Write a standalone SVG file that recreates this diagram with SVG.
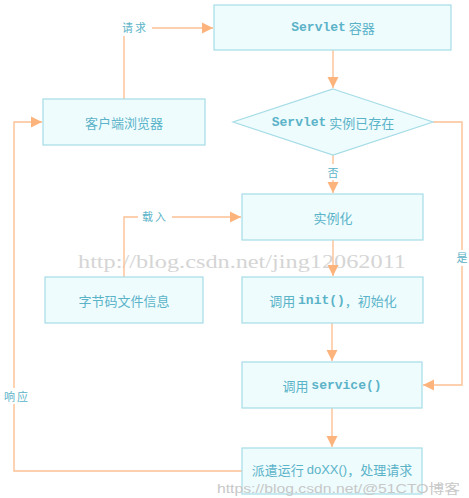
<svg xmlns="http://www.w3.org/2000/svg" width="469" height="498" viewBox="0 0 469 498">
<defs>
<style>
.box{fill:#EEFCFE;stroke:#A6DCE6;stroke-width:1.2}
.t{font-family:"Noto Sans CJK SC","Noto Sans",sans-serif;font-size:13px;fill:#5BB3C8;text-anchor:middle;dominant-baseline:central}
.m{font-family:"Liberation Mono","DejaVu Sans Mono",monospace;font-weight:bold}
.c{fill:none;stroke:#FCC195;stroke-width:1.4}
.lbl{font-family:"Noto Sans CJK SC",sans-serif;font-size:11px;fill:#5BB3C8;text-anchor:middle;dominant-baseline:central}
.wm{font-family:"Liberation Serif",serif;font-size:19px;fill:#D5D5D5}
.wm2{font-family:"Liberation Sans","Noto Sans CJK SC",sans-serif;font-size:13px;fill:#C8C8C8}
</style>
<marker id="ah" markerWidth="12" markerHeight="12" refX="11" refY="6" orient="auto" markerUnits="userSpaceOnUse">
<path d="M0,0.5 L11,6 L0,11.5 Z" fill="#FDB47C"/>
</marker>
</defs>
<rect width="469" height="498" fill="#FFFFFF"/>
<text class="wm" x="78" y="268" textLength="328" lengthAdjust="spacingAndGlyphs">http://blog.csdn.net/jing12062011</text>
<g id="connectors">
<path class="c" d="M124,99 V28 H213" marker-end="url(#ah)"/>
<path class="c" d="M333,50 V88" marker-end="url(#ah)"/>
<path class="c" d="M333,155 V193" marker-end="url(#ah)"/>
<path class="c" d="M124,277 V217 H241" marker-end="url(#ah)"/>
<path class="c" d="M333,240 V276" marker-end="url(#ah)"/>
<path class="c" d="M332,323 V361" marker-end="url(#ah)"/>
<path class="c" d="M433,122 H462 V385 H423" marker-end="url(#ah)"/>
<path class="c" d="M332,408 V447" marker-end="url(#ah)"/>
<path class="c" d="M242,471 H14 V122 H42" marker-end="url(#ah)"/>
<rect x="118" y="20" width="34" height="16" fill="#FFFFFF"/>
<text class="lbl" x="135" y="27" letter-spacing="2">请求</text>
<rect x="326" y="164" width="14" height="16" fill="#FFFFFF"/>
<text class="lbl" x="333" y="172">否</text>
<rect x="138" y="209" width="34" height="16" fill="#FFFFFF"/>
<text class="lbl" x="155" y="216" letter-spacing="2">载入</text>
<rect x="455" y="250" width="14" height="16" fill="#FFFFFF"/>
<text class="lbl" x="462" y="257">是</text>
<rect x="2" y="388" width="28" height="16" fill="#FFFFFF"/>
<text class="lbl" x="17" y="396" letter-spacing="2">响应</text>
</g>
<g id="servlet-container">
<rect class="box" x="214" y="5" width="237" height="45"/>
<text class="t" x="333" y="27"><tspan class="m">Servlet</tspan> 容器</text>
</g>
<g id="browser">
<rect class="box" x="43" y="99" width="162" height="46"/>
<text class="t" x="124" y="122">客户端浏览器</text>
</g>
<g id="exists">
<polygon class="box" points="333,89 433,122 333,155 233,122"/>
<text class="t" x="333" y="122"><tspan class="m">Servlet</tspan> 实例已存在</text>
</g>
<g id="instantiate">
<rect class="box" x="242" y="194" width="181" height="46"/>
<text class="t" x="333" y="217">实例化</text>
</g>
<g id="bytecode">
<rect class="box" x="45" y="277" width="158" height="46"/>
<text class="t" x="124" y="300">字节码文件信息</text>
</g>
<g id="init">
<rect class="box" x="242" y="277" width="181" height="46"/>
<text class="t" x="333" y="300">调用 <tspan class="m">init()</tspan>，初始化</text>
</g>
<g id="service">
<rect class="box" x="242" y="362" width="180" height="46"/>
<text class="t" x="332" y="385">调用 <tspan class="m">service()</tspan></text>
</g>
<g id="doxx">
<rect class="box" x="242" y="448" width="180" height="46"/>
<text class="t" x="332" y="469">派遣运行 <tspan font-family="Liberation Sans,sans-serif">doXX()</tspan>，处理请求</text>
</g>
<text class="wm2" x="217" y="493" textLength="243" lengthAdjust="spacingAndGlyphs">https://blog.csdn.net/@51CTO博客</text>
</svg>
